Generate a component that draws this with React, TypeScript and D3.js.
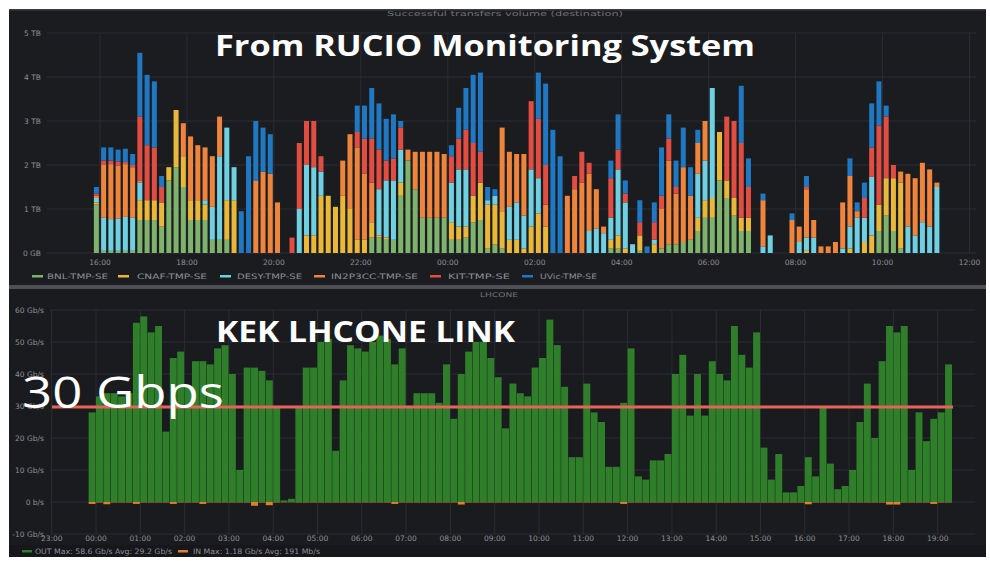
import * as d3 from "d3";

// RUCIO: successful transfers volume per destination, 10 min bins, in TB
const sites = ["BNL-TMP-SE", "CNAF-TMP-SE", "DESY-TMP-SE", "IN2P3CC-TMP-SE", "KIT-TMP-SE", "UVic-TMP-SE"];
const siteColors = ["#7eb26d", "#eab839", "#6ed0e0", "#ef843c", "#e24d42", "#1f78c1"];

const bnl = [
  1.1, 0.05, 0.05, 0.05, 0.05, 0.05, 0.75, 0.75, 0.75, 0.6,
  1.65, 1.95, 1.5, 0.75, 0.75, 0.75, 0.3, 0.3, 0.3, 0,
  0, 0, 0, 0, 0, 0, 0, 0, 0, 0,
  0, 0, 0, 0, 0, 0, 0, 0, 0.35, 0.35,
  0.3, 0.3, 1.3, 2.1, 1.45, 0.8, 0.8, 0.8, 0.8, 0.3,
  0.3, 0.35, 0.7, 0.75, 0.1, 0.2, 0.1, 0, 0, 0,
  0, 0, 0, 0, 0, 0, 0, 0, 0, 0,
  0, 0.1, 0.1, 0, 0, 0.05, 0, 0, 0.1, 0.2,
  0.2, 0.25, 0.3, 0.5, 0.8, 0.8, 1.65, 1.25, 0.85, 0.5,
  0.5, 0, 0, 0, 0, 0, 0, 0, 0, 0,
  0, 0, 0, 0, 0, 0, 0, 0, 0.5, 0.85,
  0.5, 0.1, 0, 0, 0, 0, 0,
];
const cnaf = [
  0.05, 0, 0, 0, 0, 0, 0.45, 0.45, 0.45, 0.55,
  0.3, 1.3, 0.7, 0.45, 0.45, 0.35, 0, 0, 0.9, 1.2,
  0, 0, 0, 0, 0, 0, 0, 0, 0, 0.4,
  0.4, 1.3, 1.3, 1.05, 1.3, 1.0, 0.3, 0.3, 0.35, 0.05,
  0.05, 0, 0.3, 0, 0, 0, 0, 0, 0, 0.4,
  0.3, 0.25, 0.6, 0.85, 1.0, 0.9, 0.85, 0.3, 0.3, 0.1,
  0.6, 0.9, 0.6, 0, 0, 0, 0, 0, 0, 0,
  0, 0.2, 0.3, 0.1, 0, 0.35, 0, 0.2, 0, 0,
  0, 0, 0, 0.3, 0.4, 0.45, 1.1, 0.4, 0.4, 0.3,
  0.3, 0, 0, 0, 0, 0, 0, 0, 0.05, 0,
  0, 0, 0, 0, 0.1, 0, 0.25, 0.4, 0.6, 0.85,
  1.2, 1.5, 0, 0, 0, 0, 0,
];
const desy = [
  0.1, 0.75, 0.72, 0.73, 0.77, 0.75, 0.4, 0, 0, 0,
  0, 0, 0, 0, 0, 0.1, 0.75, 1.9, 1.65, 0.75,
  0, 0, 0, 0, 0, 0, 0, 0, 1.0, 1.6,
  1.55, 0.55, 0, 0, 0, 0, 0, 0, 0, 1.05,
  1.3, 1.35, 0.75, 0, 0, 0, 0, 0, 0, 0.9,
  1.3, 1.3, 0, 0, 0.1, 0.2, 0, 0.75, 0.85, 0.75,
  1.3, 0.8, 0, 0, 0, 0, 0, 0, 0.5, 0.55,
  0.45, 0.5, 1.5, 1.05, 0.2, 0, 0, 0.1, 0, 0,
  0, 0, 0, 1.0, 0.9, 2.5, 0, 0, 0, 0,
  0, 0, 0.15, 0.4, 0, 0, 0, 0.25, 0.3, 0.35,
  0, 0, 0, 0.1, 0.5, 0.8, 0.55, 1.33, 0, 0,
  0, 0, 0.6, 0.4, 0.7, 0.6, 1.5,
];
const in2p3cc = [
  0.05, 1.2, 1.25, 1.2, 1.2, 1.15, 0.05, 0, 0, 0,
  0, 0, 0.75, 1.45, 1.25, 1.2, 1.15, 0.9, 0, 0,
  0, 0, 1.65, 1.85, 1.8, 1.15, 0, 0, 0, 0,
  0, 0, 0, 0, 0.8, 1.7, 2.1, 1.5, 0.9, 0,
  0, 0, 0, 0.25, 0.85, 1.5, 1.5, 1.5, 1.45, 0,
  0, 0, 0, 0, 0, 0, 1.9, 1.25, 1.1, 1.4,
  0, 0, 0.5, 0, 0, 1.3, 1.45, 1.6, 1.3, 0.9,
  0.15, 0, 0, 0, 0, 0, 0, 0, 0.9, 1.9,
  1.15, 1.7, 1.0, 0.7, 0.9, 0, 0, 0, 0, 0,
  0, 0, 1.05, 0, 0, 0, 0.75, 0.35, 1.1, 0.4,
  0.15, 0.15, 0.25, 1.05, 1.15, 0.15, 0, 0, 0, 0,
  0, 0.25, 1.2, 1.3, 1.35, 1.3, 0.1,
];
const kit = [
  0.05, 0.1, 0.08, 0.1, 0.05, 0.05, 1.45, 1.25, 1.2, 0.35,
  0, 0, 0, 0, 0, 0, 0, 0, 0, 0,
  0, 0, 0, 0, 0, 0, 0, 0.35, 1.5, 1.0,
  1.05, 0.35, 0, 0, 0, 0, 0.35, 0.8, 1.0, 0.9,
  0.45, 0.5, 0.5, 0, 0, 0, 0, 0, 0, 0.6,
  0.7, 0.9, 1.2, 0.7, 0, 0, 0, 0, 0, 0,
  1.55, 1.35, 0.9, 0, 0, 0, 0.3, 0.7, 0.25, 0,
  0, 0.9, 0.45, 0.2, 0, 0.3, 0, 0.4, 0.3, 0.5,
  0.15, 0, 0, 0, 0, 0, 0, 1.45, 1.75, 1.7,
  0.7, 0, 0, 0, 0, 0, 0, 0, 0.05, 0,
  0, 0, 0, 0, 0, 0, 0.45, 0.67, 1.8, 1.4,
  0.3, 0, 0, 0, 0, 0, 0,
];
const uvic = [
  0.15, 0.3, 0.3, 0.27, 0.3, 0.25, 1.45, 1.6, 1.5, 0.25,
  0, 0, 0, 0, 0, 0, 0, 0, 0, 0,
  0.95, 2.2, 1.35, 1.0, 0.9, 0, 0, 0, 0, 0,
  0, 0, 0, 0, 0, 0, 0.6, 0.75, 1.15, 1.05,
  0.95, 1.0, 0.15, 0, 0, 0, 0, 0, 0, 0.25,
  0.7, 0.95, 1.55, 1.8, 0.3, 0.15, 0, 0, 0, 0,
  0, 1.05, 1.85, 2.8, 2.2, 0, 0, 0, 0, 0,
  0, 0.4, 0.8, 0.3, 0, 0.5, 0.15, 0.45, 1.1, 0.55,
  0.6, 0.9, 0.65, 0.3, 0, 0, 0, 0, 0, 1.3,
  0.65, 0, 0.15, 0, 0, 0, 0.15, 0, 0.25, 0,
  0, 0, 0, 0, 0.4, 0.2, 0.35, 1.0, 1.0, 0.25,
  0, 0, 0, 0, 0, 0, 0,
];
const volumeTicks = [0, 1, 2, 3, 4, 5];
const volumeLabels = ["0 GB", "1 TB", "2 TB", "3 TB", "4 TB", "5 TB"];

// KEK LHCONE link, 10 min bins, in Gb/s
const linkOut = [
  28, 33, 34, 34, 33, 34, 56, 58, 53, 55,
  22, 45, 47, 36, 44, 44, 43, 48, 49, 40,
  10, 42, 42, 41, 38, 30, 0.5, 1, 30, 42,
  42, 50, 51, 16, 38, 49, 48, 47, 50, 52,
  51, 43, 48, 30, 34, 34, 34, 31, 43, 26,
  40, 47, 50, 50, 45, 39, 23, 37, 34, 33,
  42, 45, 57, 49, 36, 14, 14, 37, 28, 25,
  11, 11, 31, 48, 8, 7, 13, 13, 15, 40,
  46, 27, 40, 27, 44, 40, 38, 55, 46, 42,
  53, 17, 7, 15, 3, 3, 5, 14, 8, 30,
  12, 4, 5, 10, 25, 37, 20, 44, 55, 53,
  55, 10, 28, 19, 26, 28, 43,
];
const linkIn = [
  0.6, 0.15, 0.7, 0.15, 0.15, 0.15, 0.6, 0.15, 0.15, 0.15,
  0.15, 0.6, 0.15, 0.15, 0.15, 0.6, 0.15, 0.15, 0.15, 0.15,
  0.15, 0.15, 1.18, 0.15, 1.0, 0.15, 0.1, 0.1, 0.15, 0.15,
  0.15, 0.15, 0.15, 0.15, 0.15, 0.15, 0.15, 0.15, 0.15, 0.15,
  0.15, 0.6, 0.15, 0.15, 0.15, 0.15, 0.15, 0.15, 0.15, 0.15,
  0.8, 0.15, 0.15, 0.15, 0.15, 0.15, 0.15, 0.15, 0.15, 0.15,
  0.15, 0.15, 0.15, 0.15, 0.15, 0.15, 0.15, 0.15, 0.15, 0.15,
  0.15, 0.15, 0.6, 0.15, 0.15, 0.15, 0.15, 0.15, 0.15, 0.15,
  0.15, 0.15, 0.15, 0.15, 0.15, 0.15, 0.15, 0.15, 0.15, 0.15,
  0.15, 0.15, 0.15, 0.15, 0.15, 0.15, 0.15, 0.7, 0.15, 0.15,
  0.15, 0.15, 0.15, 0.15, 0.15, 0.15, 0.15, 0.15, 0.8, 0.8,
  0.15, 0.15, 0.15, 0.15, 0.6, 0.15, 0.15,
];
const rateTicks = [-10, 0, 10, 20, 30, 40, 50, 60];
const rateLabels = ["-10 Gb/s", "0 b/s", "10 Gb/s", "20 Gb/s", "30 Gb/s", "40 Gb/s", "50 Gb/s", "60 Gb/s"];
const limitGbps = 30;

const day = (d: number, h: number, m = 0) => new Date(2019, 5, 10 + d, h, m);
const hhmm = d3.timeFormat("%H:%M");

const small = { fontFamily: "DejaVu Sans", fontSize: 7.5, fill: "#8d9096" };
const grid = "#2b2d32";

export default function App() {
  // upper panel
  const xTop = d3.scaleTime().domain([day(0, 16), day(1, 12)]).range([100, 969.5]);
  const yTop = d3.scaleLinear().domain([0, 5]).range([253, 33]);
  const topStart = day(0, 15, 50);
  const cols = [bnl, cnaf, desy, in2p3cc, kit, uvic];
  const rows = bnl.map((_, i) => {
    const r: any = { time: d3.timeMinute.offset(topStart, 10 * i) };
    sites.forEach((s, k) => (r[s] = cols[k][i]));
    return r;
  });
  const stacked = d3.stack().keys(sites)(rows);
  const topTicks = d3.timeHour.every(2)!.range(day(0, 16), day(1, 12, 1));
  const barW = 5;

  // lower panel
  const xBot = d3.scaleTime().domain([day(1, 0), day(1, 19)]).range([96, 937.7]);
  const yBot = d3.scaleLinear().domain([0, 60]).range([502, 310]);
  const botStart = day(0, 23, 50);
  const botTicks = d3.timeHour.range(day(0, 23), day(1, 19, 1));

  const topLegend = [
    { sw: 32, tx: 47, len: 61 },
    { sw: 118, tx: 137, len: 70 },
    { sw: 220, tx: 237, len: 65 },
    { sw: 314, tx: 331, len: 87 },
    { sw: 430, tx: 448, len: 62 },
    { sw: 522, tx: 540, len: 57 },
  ];

  return (
    <svg width={990} height={562} style={{ position: "absolute", left: 0, top: 0, background: "#fff" }}>
      {/* ---------- top panel ---------- */}
      <rect x={9} y={9} width={977} height={276} fill="#1b1c20" />
      <rect x={9} y={9} width={977} height={1.5} fill="#3a3c41" />
      <text x={505} y={16} textAnchor="middle" fontFamily="DejaVu Sans" fontSize={7} fill="#6f7278"
        textLength={236} lengthAdjust="spacingAndGlyphs">Successful transfers volume (destination)</text>

      {volumeTicks.map((v, i) => (
        <g key={"vt" + v}>
          <line x1={47} x2={976} y1={yTop(v)} y2={yTop(v)} stroke={grid} />
          <text x={41} y={yTop(v) + 2.5} textAnchor="end" {...small}>{volumeLabels[i]}</text>
        </g>
      ))}
      {topTicks.map((t) => (
        <g key={"tx" + t.getTime()}>
          <line x1={xTop(t)} x2={xTop(t)} y1={33} y2={253} stroke={grid} />
          <text x={xTop(t)} y={265} textAnchor="middle" {...small}>{hhmm(t)}</text>
        </g>
      ))}
      {stacked.map((s, k) => (
        <g key={s.key} fill={siteColors[k]}>
          {s.map((d, i) =>
            d[1] - d[0] > 0 ? (
              <rect key={i}
                x={xTop(d3.timeMinute.offset(d.data.time, 5)) - barW / 2}
                y={yTop(d[1])}
                width={barW}
                height={yTop(d[0]) - yTop(d[1])} />
            ) : null
          )}
        </g>
      ))}
      {sites.map((s, k) => (
        <g key={"lg" + s}>
          <rect x={topLegend[k].sw} y={275} width={11} height={2.5} fill={siteColors[k]} />
          <text x={topLegend[k].tx} y={279} {...small} textLength={topLegend[k].len}
            lengthAdjust="spacingAndGlyphs">{s}</text>
        </g>
      ))}
      <text x={215} y={56} fontFamily="Open Sans" fontWeight={700} fontSize={29} fill="#fff"
        textLength={540} lengthAdjust="spacingAndGlyphs">From RUCIO Monitoring System</text>

      {/* ---------- separator ---------- */}
      <rect x={9} y={285} width={977} height={4} fill="#4e5055" />

      {/* ---------- bottom panel ---------- */}
      <rect x={9} y={289} width={977} height={268} fill="#1a1b1f" />
      <rect x={9} y={545} width={977} height={12} fill="#16171b" />
      <text x={499} y={297} textAnchor="middle" fontFamily="DejaVu Sans" fontSize={6.5} fill="#6f7278"
        textLength={38} lengthAdjust="spacingAndGlyphs">LHCONE</text>

      {rateTicks.map((v, i) => (
        <g key={"rt" + v}>
          <line x1={50} x2={975} y1={yBot(v)} y2={yBot(v)} stroke={grid} />
          <text x={44} y={yBot(v) + 2.5} textAnchor="end" {...small}>{rateLabels[i]}</text>
        </g>
      ))}
      {botTicks.map((t) => (
        <g key={"bx" + t.getTime()}>
          <line x1={xBot(t)} x2={xBot(t)} y1={310} y2={534} stroke={grid} />
          <text x={xBot(t)} y={541} textAnchor="middle" {...small}>{hhmm(t)}</text>
        </g>
      ))}
      <g fill="#2f7f2a">
        {linkOut.map((v, i) => {
          const t0 = d3.timeMinute.offset(botStart, 10 * i);
          const x0 = xBot(t0);
          const x1 = xBot(d3.timeMinute.offset(t0, 10));
          return <rect key={i} x={x0} y={yBot(v)} width={x1 - x0 - 0.45} height={yBot(0) - yBot(v)} />;
        })}
      </g>
      <g fill="#e0802a">
        {linkIn.map((v, i) => {
          const t0 = d3.timeMinute.offset(botStart, 10 * i);
          const x0 = xBot(t0);
          const x1 = xBot(d3.timeMinute.offset(t0, 10));
          return <rect key={i} x={x0} y={yBot(0)} width={x1 - x0 - 0.45} height={yBot(-v) - yBot(0)} />;
        })}
      </g>
      <line x1={52} x2={953} y1={yBot(limitGbps) + 1} y2={yBot(limitGbps) + 1} stroke="#e5645a" strokeWidth={3} />

      <rect x={22} y={550} width={10} height={2.5} fill="#2f7f2a" />
      <text x={35} y={554} {...small} textLength={137} lengthAdjust="spacingAndGlyphs">OUT  Max: 58.6 Gb/s  Avg: 29.2 Gb/s</text>
      <rect x={178} y={550} width={10} height={2.5} fill="#e0802a" />
      <text x={193} y={554} {...small} textLength={127} lengthAdjust="spacingAndGlyphs">IN  Max: 1.18 Gb/s  Avg: 191 Mb/s</text>

      <text x={216} y={342} fontFamily="Open Sans" fontWeight={700} fontSize={29} fill="#fff"
        textLength={299} lengthAdjust="spacingAndGlyphs">KEK LHCONE LINK</text>
      <text x={22} y={408} fontFamily="Open Sans" fontSize={43} fill="#fff"
        textLength={202} lengthAdjust="spacingAndGlyphs">30 Gbps</text>
    </svg>
  );
}
